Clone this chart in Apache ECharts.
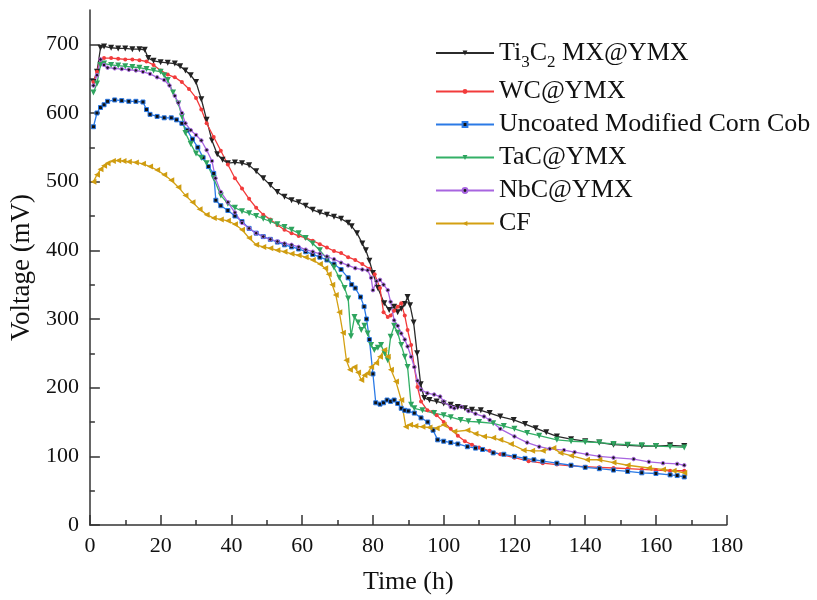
<!DOCTYPE html>
<html>
<head>
<meta charset="utf-8">
<script src="https://cdn.jsdelivr.net/npm/echarts@6/dist/echarts.min.js"></script>
<style>html,body{margin:0;padding:0;background:#fff}#c{width:817px;height:600px}</style>
</head>
<body>
<div id="c"></div>
<script>
const seriesNames = ['Ti3C2 MX@YMX', 'WC@YMX', 'Uncoated Modified Corn Cob', 'TaC@YMX', 'NbC@YMX', 'CF'];
const yTicks = [0, 100, 200, 300, 400, 500, 600, 700];
const xTicks = [0, 20, 40, 60, 80, 100, 120, 140, 160, 180];

const tTi = [1,2,3,4,6,8,10,12,14,15.5,16.5,18,20,22,24,25.5,27,28.5,30,31.5,33,34.5,36,37.5,39,41,43,45,47,49,51,53,55,57,59,61,63,65,67,69,71,73,74,75.5,77,78,79,80,81.4,83.2,84.6,86,87,88,89,89.8,90.5,91.5,92.5,93.5,94.5,96,98,100,102,104,106,108,110.5,113,116,119.8,123,126,129,132,136,140,144,148,152,156,160,164,168];
const vTi = [645,660,695,697,695,694,694,693,693,692,680,676,674,673,672,668,662,655,645,620,590,560,540,532,527,528,527,524,515,505,495,485,478,473,470,465,459,455,452,449,446,440,435,425,410,400,385,367,345,323,313,318,310,315,322,332,320,295,250,205,185,182,180,177,175,172,170,168,167,163,158,153,147,141,135,129,125,122,120,117,116,115,115,116,115];

const tWC = [1,2,3,4,6,8,10,12,14,16,18,20,22,24,26,28,30,31.5,33,35,37,39,41,43,45,47,49,51,53,55,57,59,61,63,65,67,69,71,73,75,77,79,80.5,82,83,84.2,85,86,87,88,89,89.8,90.8,91.7,92.6,93.6,95.4,97,98,100,102,104,106,108,110,113,116,120,124,128,132,136,140,144,148,152,156,160,164,168];
const vWC = [645,660,678,680,680,679,678,678,677,675,670,662,656,652,645,635,622,605,585,565,545,525,505,490,475,462,452,445,437,430,425,421,418,414,409,404,399,396,390,386,380,373,365,345,310,303,305,312,318,323,305,284,262,230,201,180,167,165,160,150,140,130,122,117,113,108,103,98,93,90,88,86,85,84,83,82,81,80,79,79];

const tUn = [1,2,3,4,5,7,9,11,13,15,16,17,19,21,23,24.5,26,27.5,29,30.5,32,33.5,35,35.6,37,39,41,43,45,47,49,51,53,55,57,59,61,63,65,67,69,71,73,74,75,76.5,77.5,78.2,79,80,80.8,82,83,84,85,86,87,88,89,90,91.7,93.6,95.5,97,98.3,100,102,104,106.7,109,111,114,117,120,123,125.5,128,132,136,140,144,148,152,156,160,164,166,168];
const vUn = [580,600,608,612,617,619,618,617,617,616,605,598,595,593,593,590,585,575,562,550,535,522,512,473,465,458,450,442,432,425,420,416,412,408,405,402,398,394,390,386,380,372,360,350,345,332,318,300,270,220,178,176,178,182,180,182,177,170,167,166,163,156,150,138,124,122,120,118,114,112,110,105,103,100,97,95,93,90,87,84,82,80,78,76,75,73,72,70,70];

const tTa = [1,2,3,4,6,8,10,12,14,16,18,20,21,22,23.5,25,26,27,28.5,30,31.5,33,35,37,39,41,43,45,47,49,51,53,55,57,59,61,63,65,67,69,70.5,72,73,73.8,74.8,75.8,76.7,77.6,78.5,79.5,80.4,81.4,82.3,83.3,84.2,85,86,87,88,89,89.8,90.8,91.7,94,97.3,100,102,104.8,107,110,114,117,120,123.6,127,132,136,140,144,148,152,156,160,164,168];
const vTa = [630,643,670,672,670,669,668,667,666,664,662,660,655,648,630,614,595,571,555,541,535,527,505,480,468,462,457,454,450,446,442,438,434,430,425,418,410,400,388,375,360,345,330,275,303,295,284,290,279,262,255,258,262,250,240,274,290,280,262,245,230,175,170,167,163,160,157,153,151,150,148,144,140,134,130,124,122,121,120,118,117,116,115,114,113];

const tNb = [1,2,3,4,5,7,9,11,13,15,17,19,21,22.5,24,25,26,27,28.5,30,31.5,33,34.5,35.5,37,39,41,43,45,47,49,51,53,55,57,59,61,63,65,67,69,71,73,75,77,78.5,79.5,80,81,82,83,84.2,85,86,87,88,89,89.8,90.8,91.7,92.6,93.6,95.4,97.3,99,100,102,103,105,107,109,111.4,113,116,120,123.6,127,130,134,137,140.5,144,148,153.7,158,162,166,168];
const vNb = [640,655,678,670,666,665,664,663,662,660,657,652,648,640,625,615,600,585,575,568,560,546,530,505,485,470,455,440,432,425,420,416,413,410,408,405,401,398,395,391,387,382,378,374,372,371,360,342,355,357,350,342,325,298,290,279,270,260,245,230,210,197,192,190,187,180,172,170,172,166,162,158,153,140,129,120,114,111,109,106,103,100,98,96,92,90,89,87,84];

const tCF = [1,2,3,4,5,6.5,8,9.5,11,13,15,17,19,21,23,25,27,29,31,33,35,37,39,41,43,45,47,49,51,53,55,57,59,61,63,65,66.5,67.5,68.5,69.5,70.5,71.5,72.5,73.5,74.8,75.8,76.7,77.6,78.5,79.5,80.9,82,83.2,84.2,85.1,86.5,88,89.3,90.5,92,94,96,98,100,103,106.7,109,111.4,114,116,119,122.6,125,128,131,133,136,140.5,144,148,152,158,162,165,168];
const vCF = [500,510,518,523,527,530,531,530,529,528,526,522,517,510,502,492,480,470,460,452,447,445,443,438,430,418,408,405,403,400,398,395,393,390,386,380,374,365,350,335,310,280,240,226,230,222,211,218,221,230,236,245,255,245,226,209,182,143,146,144,143,142,141,146,136,138,133,129,127,124,118,109,108,108,112,105,101,95,95,91,87,83,81,79,76];

function zip(t, v) { return t.map((x, i) => [x, v[i]]); }

const colors = ['#2b2b2b', '#f23b3b', '#2b7ae6', '#33b066', '#a865e0', '#d4a012'];
const markerColors = ['#222222', '#f23b3b', '#111111', '#2ea45e', '#1a1a1a', '#cf9c10'];
const symbols = ['triangle', 'circle', 'rect', 'triangle', 'circle', 'triangle'];
const symbolRot = [180, 0, 0, 180, 0, 90];
const symbolSizes = [6, 4, 4, 6, 3.5, 6];
const dataSets = [zip(tTi, vTi), zip(tWC, vWC), zip(tUn, vUn), zip(tTa, vTa), zip(tNb, vNb), zip(tCF, vCF)];

const font = "'Liberation Serif', 'Times New Roman', serif";

const chart = echarts.init(document.getElementById('c'), null, { renderer: 'canvas' });
chart.setOption({
  backgroundColor: '#fff',
  animation: false,
  grid: { left: 88, right: 90.3, top: 10, bottom: 75 },
  legend: {
    orient: 'vertical',
    left: 430,
    top: 35,
    itemWidth: 58,
    itemHeight: 6,
    itemGap: 7,
    data: seriesNames,
    textStyle: {
      fontFamily: font, fontSize: 26, color: '#111', lineHeight: 26,
      rich: {
        n: { fontFamily: font, fontSize: 26, color: '#111' },
        s: { fontFamily: font, fontSize: 17, color: '#111', padding: [20, 0, 0, 0] }
      }
    },
    formatter: function (name) {
      if (name === 'Ti3C2 MX@YMX') return '{n|Ti}{s|3}{n|C}{s|2}{n| MX@YMX}';
      return name;
    }
  },
  xAxis: {
    type: 'value', min: 0, max: 180, interval: 20,
    name: 'Time (h)', nameLocation: 'middle', nameGap: 44,
    nameTextStyle: { fontFamily: font, fontSize: 26, color: '#111' },
    axisLine: { show: true, lineStyle: { color: '#333', width: 1.5 } },
    axisTick: { show: true, inside: true, length: 10, lineStyle: { color: '#333', width: 1.5 } },
    minorTick: { show: true, splitNumber: 2, length: 5, lineStyle: { color: '#333', width: 1.5 } },
    axisLabel: { fontFamily: font, fontSize: 22, color: '#111', margin: 10, customValues: xTicks },
    splitLine: { show: false }
  },
  yAxis: {
    type: 'value', min: 0, max: 750, interval: 100,
    name: 'Voltage (mV)', nameLocation: 'middle', nameGap: 48, nameRotate: 90,
    nameTextStyle: { fontFamily: font, fontSize: 27, color: '#111' },
    axisLine: { show: true, lineStyle: { color: '#333', width: 1.5 } },
    axisTick: { show: true, inside: true, length: 10, lineStyle: { color: '#333', width: 1.5 }, customValues: yTicks },
    minorTick: { show: true, splitNumber: 2, length: 5, lineStyle: { color: '#333', width: 1.5 } },
    axisLabel: { fontFamily: font, fontSize: 22, color: '#111', margin: 11, customValues: yTicks },
    splitLine: { show: false }
  },
  series: seriesNames.map((n, i) => ({
    name: n,
    type: 'line',
    data: dataSets[i],
    symbol: symbols[i],
    symbolRotate: symbolRot[i],
    symbolSize: symbolSizes[i],
    showSymbol: true,
    lineStyle: { color: colors[i], width: 1.3 },
    itemStyle: { color: markerColors[i], borderColor: colors[i], borderWidth: i === 2 || i === 4 ? 1 : 0 },
    color: colors[i],
    emphasis: { disabled: true }
  }))
});
</script>
</body>
</html>
